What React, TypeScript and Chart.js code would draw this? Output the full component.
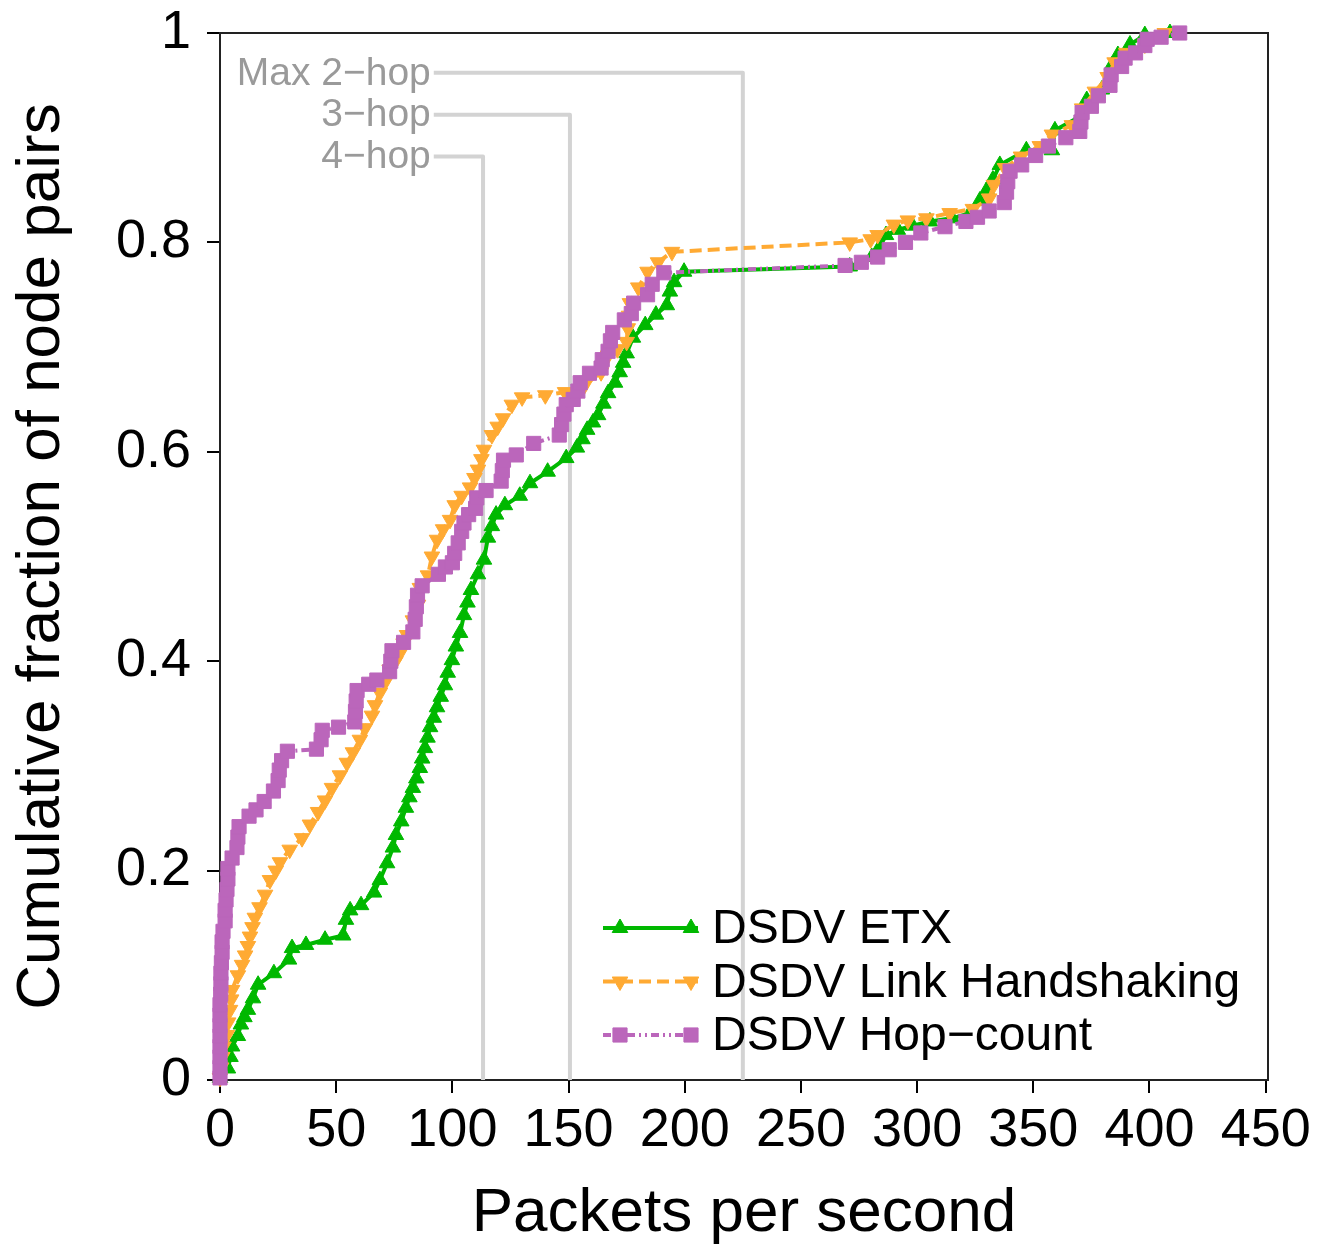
import React, { useEffect, useRef } from "react";
import { Chart, registerables } from "chart.js";

Chart.register(...registerables);

const FONT = '"Liberation Sans", Arial, Helvetica, sans-serif';

const xTicks = [0, 50, 100, 150, 200, 250, 300, 350, 400, 450];
const yTicks = [0, 0.2, 0.4, 0.6, 0.8, 1];
const seriesNames = ["DSDV ETX", "DSDV Link Handshaking", "DSDV Hop\u2212count"];

const etxPoints: [number, number][] = [
  [0, 0.002], [3.4, 0.011], [4.5, 0.022], [5.2, 0.032], [7.7, 0.042], [9, 0.053], [10.5, 0.06], [12, 0.067],
  [14.2, 0.078], [16.4, 0.091], [23.2, 0.102], [29.7, 0.115], [31, 0.126], [37, 0.129], [45.2, 0.134], [53, 0.138],
  [54.2, 0.153], [56, 0.162], [60.7, 0.167], [66.3, 0.179], [68.8, 0.191], [71.9, 0.207], [74.4, 0.222], [75.7, 0.234],
  [78, 0.247], [80, 0.26], [81.5, 0.27], [83, 0.279], [84.5, 0.288], [86, 0.298], [87, 0.307], [88.2, 0.317],
  [89.3, 0.327], [90.4, 0.337], [92, 0.346], [93.4, 0.356], [95, 0.366], [96.8, 0.377], [98, 0.389], [99.8, 0.401],
  [101.5, 0.414], [103.3, 0.427], [105, 0.444], [106.5, 0.456], [108, 0.468], [111, 0.483], [113.6, 0.497], [115.3, 0.518],
  [117, 0.529], [118.8, 0.54], [122.6, 0.549], [129, 0.558], [133.4, 0.57], [141, 0.581], [149, 0.594], [153.6, 0.604],
  [156, 0.612], [158, 0.621], [160.5, 0.628], [162.7, 0.635], [165, 0.646], [167, 0.656], [170, 0.666], [172, 0.676],
  [173.5, 0.685], [175, 0.694], [177.7, 0.709], [183, 0.721], [187.6, 0.731], [192.3, 0.74], [193.6, 0.753], [195.4, 0.762],
  [199.7, 0.772], [271, 0.777], [280.5, 0.786], [284, 0.796], [286.6, 0.807], [291.7, 0.812],
  [298, 0.816], [305.5, 0.82], [315, 0.823], [322.7, 0.828], [327, 0.84], [330, 0.85], [332.6, 0.86], [335.6, 0.874],
  [347, 0.888], [358, 0.888], [359.3, 0.907], [370, 0.92], [373, 0.936], [379.5, 0.946], [383.8, 0.969], [386.4, 0.979],
  [391.6, 0.989], [398, 0.998], [408.8, 1.0],
];

const lhPoints: [number, number][] = [
  [0, 0.002], [0.5, 0.012], [1, 0.022], [1.5, 0.032], [3, 0.043], [3.5, 0.055], [4.3, 0.067], [4.8, 0.077],
  [5.2, 0.086], [7.7, 0.1], [9.5, 0.11], [10.8, 0.119], [12, 0.128], [12.9, 0.137], [14, 0.146], [15, 0.155],
  [17, 0.165], [19.4, 0.177], [21.5, 0.191], [24, 0.2], [25.8, 0.208], [30, 0.22], [35.3, 0.231], [38.7, 0.244],
  [42.2, 0.256], [45.2, 0.267], [48.2, 0.279], [51.6, 0.291], [54.6, 0.303], [57.2, 0.313], [60.2, 0.325], [62.4, 0.336],
  [65.4, 0.348], [66.7, 0.358], [68.8, 0.37], [71, 0.38], [73, 0.392], [75.5, 0.4], [77.5, 0.408], [79, 0.417],
  [80.5, 0.425], [83, 0.439], [85.2, 0.454], [86, 0.47], [89.5, 0.482], [91.2, 0.5], [93.4, 0.516], [96, 0.526],
  [99, 0.535], [101, 0.549], [104, 0.558], [107.6, 0.566], [109.5, 0.575], [111, 0.583], [112.5, 0.593], [113.6, 0.602],
  [117, 0.616], [119.5, 0.624], [121.8, 0.632], [125.6, 0.645], [130, 0.652], [140, 0.654], [148.5, 0.657], [157, 0.664],
  [164, 0.676], [167, 0.692], [171, 0.698], [175, 0.705], [175.5, 0.718], [176, 0.73], [176.4, 0.742], [180, 0.757],
  [184, 0.772], [188.5, 0.781], [194.5, 0.791], [271, 0.8], [280, 0.803],
  [283, 0.807], [290, 0.817], [296, 0.821], [304, 0.823], [314, 0.828], [324, 0.832], [331, 0.842], [333, 0.855],
  [337.8, 0.871], [344.7, 0.882], [352.8, 0.892], [358, 0.903], [366.6, 0.912], [371, 0.928], [376.5, 0.944], [382, 0.958],
  [385, 0.972], [390, 0.981], [398, 0.989], [406.6, 1.0],
];

const hopPoints: [number, number][] = [
  [0, 0.002], [0, 0.012], [0, 0.022], [0, 0.032], [0, 0.042], [0, 0.052], [0, 0.062], [0, 0.072],
  [0.3, 0.082], [0.4, 0.092], [0.4, 0.102], [0.6, 0.112], [0.9, 0.122], [0.9, 0.132], [1.3, 0.142], [2.2, 0.152],
  [2.2, 0.162], [2.6, 0.172], [3, 0.182], [3.4, 0.192], [3.4, 0.202], [5.2, 0.212], [7.3, 0.222], [7.7, 0.232],
  [8.2, 0.242], [12.5, 0.252], [15.5, 0.258], [19, 0.266], [23, 0.276], [25, 0.286], [25.5, 0.296], [26.5, 0.305],
  [29, 0.314], [41.5, 0.316], [43.5, 0.325], [44, 0.334], [51, 0.337], [58, 0.342], [58.3, 0.352], [58.6, 0.362],
  [59, 0.372], [64, 0.378], [67.5, 0.382], [73, 0.39], [73.5, 0.4], [74, 0.41], [79, 0.418], [83, 0.428],
  [84, 0.44], [84.5, 0.452], [85, 0.463], [87, 0.472], [94, 0.483], [97, 0.49], [100, 0.494], [101, 0.503],
  [102.5, 0.513], [104, 0.524], [105, 0.532], [107, 0.54], [110, 0.546], [110.5, 0.556], [114.5, 0.563], [121, 0.572],
  [121.5, 0.582], [122, 0.592], [127.5, 0.597], [135, 0.608], [146, 0.616], [147, 0.626], [148, 0.636], [149, 0.645],
  [152, 0.65], [154, 0.658], [155, 0.666], [159, 0.675], [164, 0.68], [164.5, 0.688], [167, 0.696], [168, 0.706],
  [169, 0.714], [174, 0.726], [177, 0.732], [178, 0.742], [184, 0.75], [186, 0.76], [191, 0.771], [269, 0.778],
  [276, 0.781], [283, 0.786], [288, 0.793], [295, 0.8], [301.6, 0.809],
  [312, 0.815], [321, 0.82], [326, 0.824], [331, 0.83], [337.5, 0.838], [338.5, 0.848], [339, 0.858], [340, 0.868],
  [345, 0.874], [351, 0.883], [356.5, 0.892], [364, 0.9], [370, 0.906], [370.5, 0.915], [371, 0.924], [375, 0.93],
  [378, 0.94], [383, 0.95], [383.5, 0.96], [388, 0.968], [389.5, 0.976], [394, 0.981], [398, 0.988], [399, 0.994],
  [405, 0.996], [413, 1.0],
];

const hopLabels = ["Max 2\u2212hop", "3\u2212hop", "4\u2212hop"];
const hopLimitX = [225, 150.6, 113.2];
const hopLabelY = [0.962, 0.922, 0.882];
const hopLineStartX = 92;

const GREEN = "#00b800";
const ORANGE = "#ffaa33";
const PURPLE = "#bb66bb";
const REF_LINE = "#d3d3d3";
const REF_TEXT = "#9a9a9a";

const toXY = (pts: [number, number][]) => pts.map(([x, y]) => ({ x, y }));

type MarkerKind = "triangle" | "triangleDown" | "rect";

function drawMarker(ctx: CanvasRenderingContext2D, kind: MarkerKind, x: number, y: number, r: number, color: string) {
  ctx.fillStyle = color;
  ctx.strokeStyle = color;
  ctx.lineWidth = 1;
  ctx.beginPath();
  if (kind === "rect") {
    const s = r * Math.SQRT1_2;
    ctx.rect(x - s, y - s, 2 * s, 2 * s);
  } else {
    const base = kind === "triangle" ? -Math.PI / 2 : Math.PI / 2;
    for (let k = 0; k < 3; k++) {
      const a = base + (k * 2 * Math.PI) / 3;
      const px = x + Math.cos(a) * r;
      const py = y + Math.sin(a) * r;
      if (k === 0) ctx.moveTo(px, py);
      else ctx.lineTo(px, py);
    }
    ctx.closePath();
  }
  ctx.fill();
  ctx.stroke();
}

const TRI_R = 9;
const RECT_R = 10;
const LINE_W = 4;

const legendRows = [
  { name: seriesNames[0], color: GREEN, dash: [] as number[], marker: "triangle" as MarkerKind, r: TRI_R },
  { name: seriesNames[1], color: ORANGE, dash: [12, 6], marker: "triangleDown" as MarkerKind, r: TRI_R },
  { name: seriesNames[2], color: PURPLE, dash: [8, 4, 2, 4, 2, 4], marker: "rect" as MarkerKind, r: RECT_R },
];

const framePlugin = {
  id: "frame",
  beforeDatasetsDraw(chart: any) {
    const { ctx, chartArea } = chart;
    ctx.save();
    ctx.strokeStyle = "#222";
    ctx.lineWidth = 2;
    ctx.beginPath();
    ctx.moveTo(chartArea.left, chartArea.top);
    ctx.lineTo(chartArea.right, chartArea.top);
    ctx.lineTo(chartArea.right, chartArea.bottom);
    ctx.stroke();
    const xs = chart.scales.x;
    const ys = chart.scales.y;
    ctx.fillStyle = REF_TEXT;
    ctx.font = `39px ${FONT}`;
    ctx.textAlign = "right";
    ctx.textBaseline = "middle";
    hopLabels.forEach((t, i) => {
      ctx.fillText(t, xs.getPixelForValue(hopLineStartX) - 3, ys.getPixelForValue(hopLabelY[i]) + 1);
    });
    ctx.restore();
  },
};

const legendPlugin = {
  id: "cdfLegend",
  afterDraw(chart: any) {
    const { ctx, chartArea } = chart;
    ctx.save();
    const x0 = chartArea.left + 383;
    const x1 = chartArea.left + 478;
    const y0 = chartArea.bottom - 152;
    legendRows.forEach((row, i) => {
      const y = y0 + i * 53.5;
      ctx.strokeStyle = row.color;
      ctx.lineWidth = LINE_W;
      ctx.setLineDash(row.dash);
      ctx.beginPath();
      ctx.moveTo(x0, y);
      ctx.lineTo(x1, y);
      ctx.stroke();
      ctx.setLineDash([]);
      drawMarker(ctx, row.marker, x0 + 17, y, row.r, row.color);
      drawMarker(ctx, row.marker, x1 - 7, y, row.r, row.color);
      ctx.fillStyle = "#000";
      ctx.font = `48px ${FONT}`;
      ctx.textAlign = "left";
      ctx.textBaseline = "middle";
      ctx.fillText(row.name, x1 + 14, y + 2);
    });
    ctx.restore();
  },
};

export default function App() {
  const ref = useRef<HTMLCanvasElement>(null);
  useEffect(() => {
    const canvas = ref.current;
    if (!canvas) return;
    Chart.defaults.font.family = FONT;
    const curve = {
      clip: false as any,
      tension: 0,
      borderWidth: LINE_W,
      pointBorderWidth: 1,
      fill: false,
    };
    const refLines = hopLimitX.map((x, i) => ({
      label: hopLabels[i],
      data: [
        { x: hopLineStartX, y: hopLabelY[i] },
        { x, y: hopLabelY[i] },
        { x, y: 0 },
      ],
      borderColor: REF_LINE,
      borderWidth: 4,
      pointRadius: 0,
      tension: 0,
      fill: false,
      borderJoinStyle: "round" as const,
    }));
    const zeroPad = (s: any) => {
      s.paddingTop = 0;
      s.paddingBottom = 0;
      s.paddingLeft = 0;
      s.paddingRight = 0;
    };
    const chart = new Chart(canvas, {
      type: "line",
      data: {
        datasets: [
          {
            ...curve,
            label: seriesNames[2],
            data: toXY(hopPoints),
            borderColor: PURPLE,
            backgroundColor: PURPLE,
            pointBackgroundColor: PURPLE,
            pointBorderColor: PURPLE,
            pointStyle: "rect",
            pointRadius: RECT_R,
            borderDash: [8, 4, 2, 4, 2, 4],
          },
          {
            ...curve,
            label: seriesNames[1],
            data: toXY(lhPoints),
            borderColor: ORANGE,
            backgroundColor: ORANGE,
            pointBackgroundColor: ORANGE,
            pointBorderColor: ORANGE,
            pointStyle: "triangle",
            pointRotation: 180,
            pointRadius: TRI_R,
            borderDash: [12, 6],
          },
          {
            ...curve,
            label: seriesNames[0],
            data: toXY(etxPoints),
            borderColor: GREEN,
            backgroundColor: GREEN,
            pointBackgroundColor: GREEN,
            pointBorderColor: GREEN,
            pointStyle: "triangle",
            pointRadius: TRI_R,
          },
          ...refLines,
        ] as any,
      },
      options: {
        responsive: false,
        animation: false,
        events: [],
        layout: { padding: { left: 0, right: 51, top: 33, bottom: 0 } },
        plugins: { legend: { display: false }, tooltip: { enabled: false } },
        scales: {
          x: {
            type: "linear",
            min: 0,
            max: 451,
            afterBuildTicks: (s: any) => {
              s.ticks = xTicks.map((v) => ({ value: v }));
            },
            afterFit: (s: any) => {
              s.height = 171;
              zeroPad(s);
            },
            grid: { drawOnChartArea: false, drawTicks: true, tickLength: 13, color: "#000", lineWidth: 2 },
            border: { display: true, color: "#222", width: 2 },
            ticks: {
              font: { size: 54, family: FONT },
              color: "#000",
              padding: 6,
              maxRotation: 0,
              autoSkip: false,
              callback: (v: any) => String(v),
            },
            title: {
              display: true,
              text: "Packets per second",
              font: { size: 62, family: FONT },
              color: "#000",
              padding: { top: 0, bottom: 0 },
            },
          },
          y: {
            type: "linear",
            min: 0,
            max: 1,
            afterBuildTicks: (s: any) => {
              s.ticks = yTicks.map((v) => ({ value: v }));
            },
            afterFit: (s: any) => {
              s.width = 220;
              zeroPad(s);
            },
            grid: { drawOnChartArea: false, drawTicks: true, tickLength: 13, color: "#000", lineWidth: 2 },
            border: { display: true, color: "#222", width: 2 },
            ticks: {
              font: { size: 54, family: FONT },
              color: "#000",
              padding: 16,
              autoSkip: false,
              callback: (v: any) => (v === 0 ? "0" : v === 1 ? "1" : Number(v).toFixed(1)),
            },
            title: {
              display: true,
              text: "Cumulative fraction of node pairs",
              font: { size: 62, family: FONT },
              color: "#000",
              padding: { top: 5, bottom: 0 },
            },
          },
        },
      },
      plugins: [framePlugin, legendPlugin],
    });
    return () => chart.destroy();
  }, []);
  return (
    <div style={{ position: "fixed", left: 0, top: 0, width: 1319, height: 1251, background: "#fff" }}>
      <canvas ref={ref} width={1319} height={1251} style={{ display: "block" }} />
    </div>
  );
}
